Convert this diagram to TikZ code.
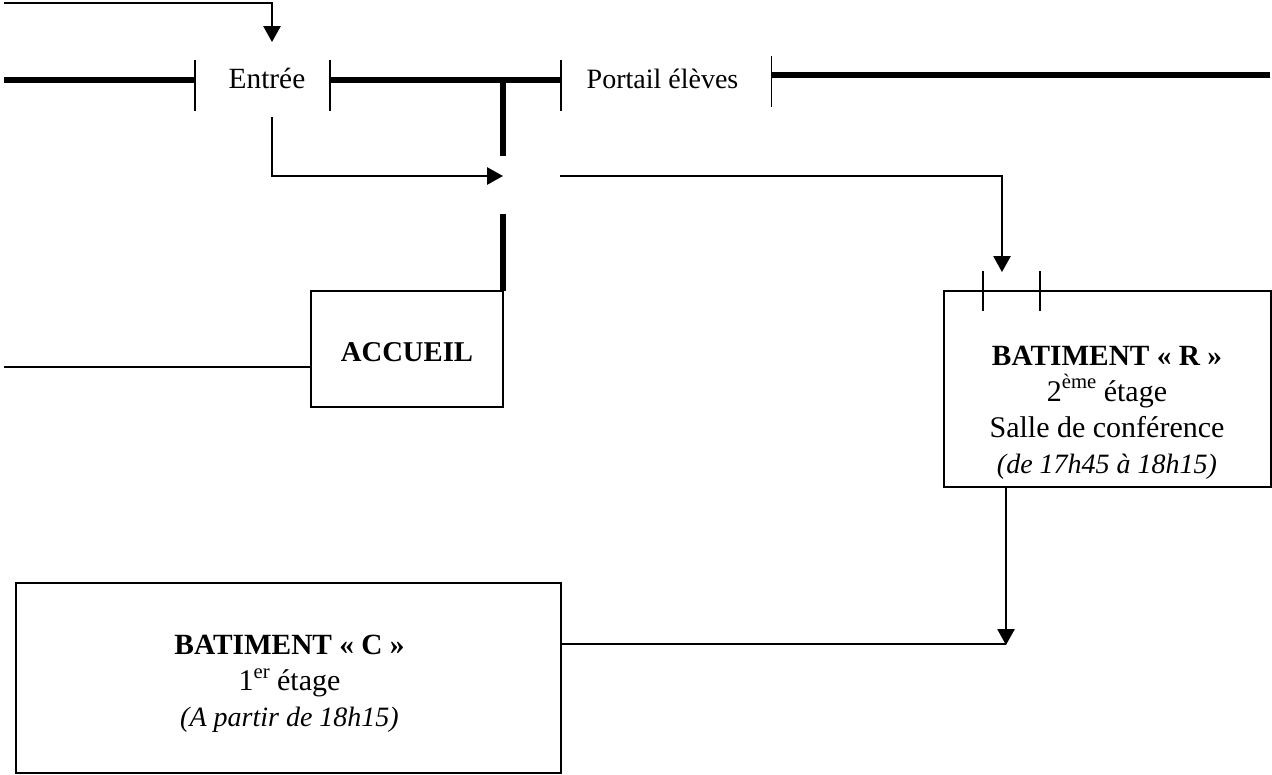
\documentclass[tikz,border=0pt]{standalone}
\usepackage{fontspec}
\setmainfont{Liberation Serif}
\usetikzlibrary{arrows.meta}
\newcommand{\exposant}[1]{\raisebox{0.42em}{\fontsize{15.5}{15.5}\selectfont #1}}
\newcommand{\fsz}[1]{\fontsize{#1}{27}\selectfont}
\tikzset{
 thinline/.style={draw=black,line width=1.3pt},
 wall/.style={draw=black,line width=4.1pt},
 arrowline/.style={thinline,-{Triangle[length=12pt,width=13pt]}},
 boxnode/.style={draw=black,line width=1.4pt,fill=white,anchor=north west,inner sep=0pt,outer sep=0pt},
 gate/.style={anchor=north west,inner sep=0pt,outer sep=0pt},
 lab/.style={font=\fontsize{21}{27}\selectfont,align=center,inner sep=0pt},
}
\begin{document}
\begin{tikzpicture}[x=0.75pt,y=-0.75pt]
\useasboundingbox (0,0) rectangle (1272,775);
% free ends
\coordinate (wallL) at (4,80);
\coordinate (wallR) at (1270,75);
\coordinate (tj) at (503,80);
\coordinate (stemT) at (503,156);
\coordinate (stemB) at (503,214);
\coordinate (topL) at (4,3);
\coordinate (topC) at (272,3);
\coordinate (topE) at (272,42);
\coordinate (entS) at (272,117);
\coordinate (entC) at (272,176);
\coordinate (entE) at (503,176);
\coordinate (rS) at (560,176);
\coordinate (rC) at (1002,176);
\coordinate (rE) at (1002,272);
\coordinate (accL) at (4,367);
% gates
\node[gate,minimum width=135*0.75pt,minimum height=51*0.75pt] (entree) at (195,60) {};
\node[gate,minimum width=211*0.75pt,minimum height=51*0.75pt] (portail) at (561,60) {};
\node[gate,minimum width=1pt,minimum height=51*0.75pt] (portailR) at (771.5,56) {};
% boxes
\node[boxnode,minimum width=192*0.75pt,minimum height=116*0.75pt] (accueil) at (311,291) {};
\node[boxnode,minimum width=327*0.75pt,minimum height=196*0.75pt] (batR) at (944,291) {};
\node[boxnode,minimum width=545*0.75pt,minimum height=190*0.75pt] (batC) at (16,583) {};
\coordinate (rOut) at (1006,487);
\coordinate (rIn) at (1006,645);
\coordinate (cIn) at (1006,644);
% walls
\draw[wall] (wallL) -- (entree.west |- wallL);
\draw[wall] (entree.east |- wallL) -- (portail.west |- wallL);
\draw[wall] (portailR.west |- wallR) -- (wallR);
\draw[wall] (tj) -- (stemT);
\draw[wall] (stemB) -- (accueil.north east);
% gate ticks
\draw[thinline] (entree.north west) -- (entree.south west);
\draw[thinline] (entree.north east) -- (entree.south east);
\draw[thinline] (portail.north west) -- (portail.south west);
\draw[thinline] (portailR.north west) -- (portailR.south west);
\draw[thinline] (983,271) coordinate (t1) -- (983,311) coordinate (t1b);
\draw[thinline] (1040,271) coordinate (t2) -- (1040,311) coordinate (t2b);
% connectors
\draw[arrowline] (topL) -- (topC) -- (topE);
\draw[arrowline] (entS) -- (entC) -- (entE);
\draw[arrowline] (rS) -- (rC) -- (rE);
\draw[thinline] (accL) -- (accL -| accueil.west);
\draw[arrowline] (rOut) -- (rIn);
\draw[thinline] (batC.east |- cIn) -- (cIn);
% labels
\node[lab,anchor=base] (entreeL) at (267,88) {\fsz{22}Entrée};
\node[lab,anchor=base] (portailL) at (662.5,88) {Portail élèves};
\node[lab,anchor=base] (accueilL) at (407,361) {\fsz{21.5}\textbf{ACCUEIL}};
\node[lab] (batRL) at (1107,412.5) {\fsz{22}\textbf{BATIMENT « R »}\\\fsz{22.5}2\exposant{ème} étage\\\fsz{22.5}Salle de conférence\\\fsz{21}\textit{(de 17h45 à 18h15)}};
\node[lab] (batCL) at (289.5,684) {\fsz{22}\textbf{BATIMENT « C »}\\\fsz{22.5}1\exposant{er} étage\\\fsz{21}\textit{(A partir de 18h15)}};
\end{tikzpicture}
\end{document}
